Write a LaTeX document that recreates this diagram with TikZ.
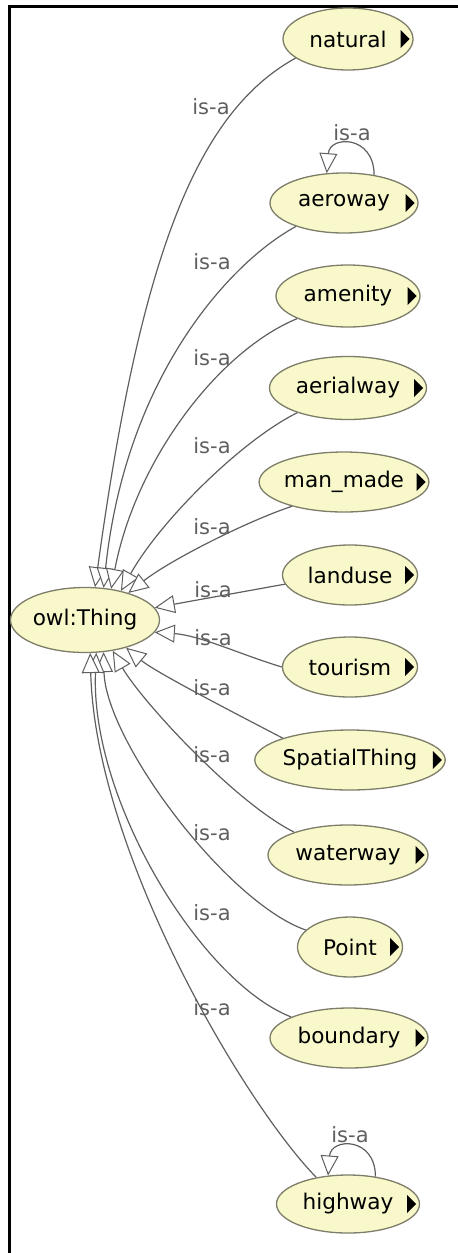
\documentclass[tikz,border=0pt]{standalone}
\usepackage{fontspec}
\setmainfont{DejaVu Sans}
\usetikzlibrary{shapes.geometric,arrows.meta}
\definecolor{nodefill}{RGB}{248,248,202}
\definecolor{nodeborder}{RGB}{125,125,105}
\definecolor{edgegray}{RGB}{95,95,95}
\definecolor{labelgray}{RGB}{95,95,95}
\newcommand{\navtri}[1]{\fill[black] (#1.east) ++(-13,-9) -- ++(9,9) -- ++(-9,9) -- cycle;}
\begin{document}
\begin{tikzpicture}[x=0.5pt,y=-0.5pt,
  cls/.style={ellipse, draw=nodeborder, fill=nodefill, line width=0.65pt, inner sep=0pt,
    font=\fontsize{10.8}{12}\selectfont, text=black},
  isa/.style={draw=edgegray, line width=0.6pt,
    -{Triangle[length=10pt,width=9pt,fill=white,line width=0.5pt]}},
  lbl/.style={font=\fontsize{10.5}{12}\selectfont, text=labelgray, inner sep=0pt}]
\useasboundingbox (0,0) rectangle (457,1253);
% frame
\draw[line width=1.5pt, line cap=rect] (9.5,1253) -- (9.5,6) -- (457,6);

% nodes
\node[cls, minimum width=74.5pt, minimum height=32.5pt] (owl) at (85,620) {owl:Thing};
\node[cls, minimum width=65pt, minimum height=31pt] (natural) at (348,39) {natural\hspace{7pt}};
\node[cls, minimum width=74pt, minimum height=30pt] (aeroway) at (344,203) {aeroway\hspace{7pt}};
\node[cls, minimum width=72pt, minimum height=31pt] (amenity) at (348,296) {amenity\hspace{7pt}};
\node[cls, minimum width=78.5pt, minimum height=31.5pt] (aerialway) at (348,388) {aerialway\hspace{7pt}};
\node[cls, minimum width=84pt, minimum height=30pt] (manmade) at (344,482) {man\_made\hspace{7pt}};
\node[cls, minimum width=67.5pt, minimum height=30pt] (landuse) at (350,575) {landuse\hspace{7pt}};
\node[cls, minimum width=67.5pt, minimum height=30pt] (tourism) at (350,667) {tourism\hspace{7pt}};
\node[cls, minimum width=94pt, minimum height=30pt] (spatial) at (350,760) {SpatialThing\hspace{7pt}};
\node[cls, minimum width=80pt, minimum height=30pt] (waterway) at (348,855) {waterway\hspace{7pt}};
\node[cls, minimum width=52.5pt, minimum height=30pt] (point) at (350,947) {Point\hspace{7pt}};
\node[cls, minimum width=79pt, minimum height=30pt] (boundary) at (349,1038) {boundary\hspace{7pt}};
\node[cls, minimum width=71.5pt, minimum height=29pt] (highway) at (348,1204) {highway\hspace{7pt}};

% expand triangles
\navtri{natural}
\navtri{aeroway}
\navtri{amenity}
\navtri{aerialway}
\navtri{manmade}
\navtri{landuse}
\navtri{tourism}
\navtri{spatial}
\navtri{waterway}
\navtri{point}
\navtri{boundary}
\navtri{highway}

% edges
\draw[isa] (natural.200) .. controls +(-100,55) and +(45,-328) .. (owl.73);
\draw[isa] (aeroway.206) .. controls +(-68,37) and +(22,-209) .. (owl.60);
\draw[isa] (amenity.204) .. controls +(-78,32) and +(25,-130) .. (owl.50);
\draw[isa] (aerialway.206) .. controls +(-55,27) and +(40,-71) .. (owl.39);
\draw[isa] (manmade.205) .. controls +(-45,15) and +(42,-33) .. (owl.32);
\draw[isa] (landuse.188) -- (owl.10);
\draw[isa] (tourism.180) .. controls +(-40,-12) and +(45,3) .. (owl.-10);
\draw[isa] (spatial.162) .. controls +(-42,-22) and +(30,25) .. (owl.-34);
\draw[isa] (waterway.157) .. controls +(-60,-30) and +(28,49) .. (owl.-48);
\draw[isa] (point.159) .. controls +(-80,-28) and +(2,88) .. (owl.-60);
\draw[isa] (boundary.160) .. controls +(-90,-35) and +(-6,148) .. (owl.-71);
\draw[isa] (highway.140) .. controls +(-73,-75) and +(5,198) .. (owl.-81);
% self loops
\draw[isa] (aeroway.43) .. controls +(0,-40) and +(3,-38) .. (aeroway.120);
\draw[isa] (highway.45) .. controls +(0,-40) and +(3,-38) .. (highway.125);

% labels
\node[lbl] (l1) at (211,107) {is-a};
\node[lbl] (l2) at (352,133) {is-a};
\node[lbl] (l3) at (212,262) {is-a};
\node[lbl] (l4) at (212,358) {is-a};
\node[lbl] (l5) at (212,446) {is-a};
\node[lbl] (l6) at (212,527) {is-a};
\node[lbl] (l7) at (213,590) {is-a};
\node[lbl] (l8) at (213,638) {is-a};
\node[lbl] (l9) at (212,688) {is-a};
\node[lbl] (l10) at (212,755) {is-a};
\node[lbl] (l11) at (212,833) {is-a};
\node[lbl] (l12) at (212,913) {is-a};
\node[lbl] (l13) at (212,1008) {is-a};
\node[lbl] (l14) at (350,1135) {is-a};
\end{tikzpicture}
\end{document}
